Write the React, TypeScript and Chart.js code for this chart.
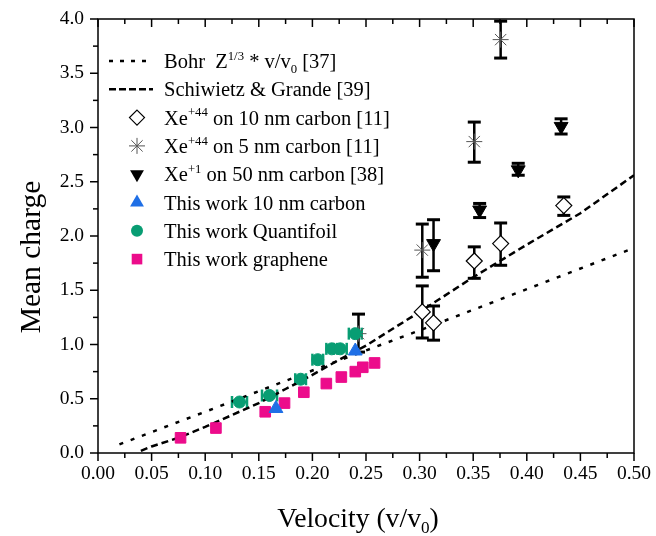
import React, { useEffect, useRef } from 'react';
import { Chart, registerables } from 'chart.js';

Chart.register(...registerables);

const FONT = '"Liberation Serif", "Times New Roman", serif';

// Axis ticks
const X_TICKS = [0, 0.05, 0.1, 0.15, 0.2, 0.25, 0.3, 0.35, 0.4, 0.45, 0.5];
const Y_TICKS = [0, 0.5, 1, 1.5, 2, 2.5, 3, 3.5, 4];

// Bohr Z^(1/3) * v/v0 [37]
const BOHR_V = [0.02, 0.1, 0.2, 0.3, 0.4, 0.5];
const BOHR_Q = [0.08, 0.38, 0.76, 1.13, 1.51, 1.89];

// Schiwietz & Grande [39]
const SG_V = [0.04, 0.05, 0.075, 0.1, 0.125, 0.15, 0.175, 0.2, 0.225, 0.25, 0.3, 0.35, 0.4, 0.45, 0.5];
const SG_Q = [0.02, 0.06, 0.14, 0.24, 0.35, 0.46, 0.59, 0.72, 0.86, 0.99, 1.3, 1.62, 1.92, 2.21, 2.56];

// Xe+44 on 10 nm carbon [11]
const XE44_10_V = [0.3025, 0.313, 0.351, 0.3756, 0.4345];
const XE44_10_Q = [1.3, 1.2, 1.77, 1.93, 2.28];
const XE44_10_LO = [1.06, 1.04, 1.61, 1.73, 2.19];
const XE44_10_HI = [1.54, 1.355, 1.9, 2.12, 2.36];

// Xe+44 on 5 nm carbon [11]
const XE44_5_V = [0.243, 0.3025, 0.351, 0.3756];
const XE44_5_Q = [1.1, 1.87, 2.87, 3.81];
const XE44_5_LO = [0.93, 1.62, 2.68, 3.64];
const XE44_5_HI = [1.28, 2.11, 3.05, 3.98];

// Xe+1 on 50 nm carbon [38]
const XE1_50_V = [0.313, 0.356, 0.392, 0.432];
const XE1_50_Q = [1.93, 2.24, 2.61, 3.01];
const XE1_50_LO = [1.68, 2.17, 2.56, 2.94];
const XE1_50_HI = [2.15, 2.3, 2.67, 3.08];

// This work 10 nm carbon
const TW_C10_V = [0.166, 0.24];
const TW_C10_Q = [0.41, 0.94];

// This work Quantifoil
const TW_QF_V = [0.132, 0.16, 0.189, 0.205, 0.218, 0.226, 0.24];
const TW_QF_Q = [0.47, 0.53, 0.68, 0.86, 0.96, 0.96, 1.1];
const TW_QF_XERR = [0.007, 0.007, 0.005, 0.005, 0.005, 0.006, 0.006];

// This work graphene
const TW_GR_V = [0.077, 0.11, 0.156, 0.174, 0.192, 0.213, 0.227, 0.24, 0.247, 0.258];
const TW_GR_Q = [0.14, 0.23, 0.38, 0.46, 0.56, 0.64, 0.7, 0.75, 0.79, 0.83];

const BLUE = '#1f6fe6';
const GREEN = '#089d73';
const PINK = '#ec0c8b';

const pts = (xs: number[], ys: number[]) => xs.map((v, i) => ({ x: v, y: ys[i] }));

type Seg = { t: string; k?: 'sup' | 'sub' };

function richWidth(ctx: CanvasRenderingContext2D, segs: Seg[], size: number) {
  let w = 0;
  for (const s of segs) {
    const fs = s.k ? size * 0.62 : size;
    ctx.font = `${fs}px ${FONT}`;
    w += ctx.measureText(s.t).width;
  }
  return w;
}

function drawRich(ctx: CanvasRenderingContext2D, segs: Seg[], x: number, y: number, size: number) {
  let cx = x;
  ctx.textBaseline = 'alphabetic';
  ctx.textAlign = 'left';
  for (const s of segs) {
    const fs = s.k ? size * 0.62 : size;
    ctx.font = `${fs}px ${FONT}`;
    const dy = s.k === 'sup' ? -size * 0.4 : s.k === 'sub' ? size * 0.22 : 0;
    ctx.fillText(s.t, cx, y + dy);
    cx += ctx.measureText(s.t).width;
  }
}

function line(ctx: CanvasRenderingContext2D, x1: number, y1: number, x2: number, y2: number) {
  ctx.beginPath();
  ctx.moveTo(x1, y1);
  ctx.lineTo(x2, y2);
  ctx.stroke();
}

function drawMarker(ctx: CanvasRenderingContext2D, kind: string, x: number, y: number) {
  ctx.save();
  ctx.beginPath();
  if (kind === 'diamond') {
    const r = 7.5;
    ctx.moveTo(x, y - r); ctx.lineTo(x + r, y); ctx.lineTo(x, y + r); ctx.lineTo(x - r, y); ctx.closePath();
    ctx.fillStyle = '#fff'; ctx.fill();
    ctx.strokeStyle = '#000'; ctx.lineWidth = 1.2; ctx.stroke();
  } else if (kind === 'star') {
    const r = 8;
    ctx.strokeStyle = '#555'; ctx.lineWidth = 1;
    for (let i = 0; i < 4; i++) {
      const a = (i * Math.PI) / 4;
      ctx.moveTo(x - Math.cos(a) * r, y - Math.sin(a) * r);
      ctx.lineTo(x + Math.cos(a) * r, y + Math.sin(a) * r);
    }
    ctx.stroke();
  } else if (kind === 'down' || kind === 'up') {
    const r = 8;
    const s = kind === 'down' ? 1 : -1;
    ctx.moveTo(x, y + s * r);
    ctx.lineTo(x + r * 0.866, y - s * r * 0.5);
    ctx.lineTo(x - r * 0.866, y - s * r * 0.5);
    ctx.closePath();
    ctx.fillStyle = kind === 'down' ? '#000' : BLUE;
    ctx.fill();
  } else if (kind === 'circle') {
    ctx.arc(x, y, 6, 0, Math.PI * 2);
    ctx.fillStyle = GREEN; ctx.fill();
  } else if (kind === 'square') {
    ctx.fillStyle = PINK;
    ctx.fillRect(x - 5.3, y - 5.3, 10.6, 10.6);
  }
  ctx.restore();
}

const LEGEND: { kind: string; segs: Seg[] }[] = [
  { kind: 'bohr', segs: [{ t: 'Bohr  Z' }, { t: '1/3', k: 'sup' }, { t: ' * v/v' }, { t: '0', k: 'sub' }, { t: ' [37]' }] },
  { kind: 'sg', segs: [{ t: 'Schiwietz & Grande [39]' }] },
  { kind: 'diamond', segs: [{ t: 'Xe' }, { t: '+44', k: 'sup' }, { t: ' on 10 nm carbon [11]' }] },
  { kind: 'star', segs: [{ t: 'Xe' }, { t: '+44', k: 'sup' }, { t: ' on 5 nm carbon [11]' }] },
  { kind: 'down', segs: [{ t: 'Xe' }, { t: '+1', k: 'sup' }, { t: ' on 50 nm carbon [38]' }] },
  { kind: 'up', segs: [{ t: 'This work 10 nm carbon' }] },
  { kind: 'circle', segs: [{ t: 'This work Quantifoil' }] },
  { kind: 'square', segs: [{ t: 'This work graphene' }] },
];

const errorBarsPlugin = {
  id: 'errorBars',
  beforeDatasetsDraw(chart: any) {
    const { ctx, scales } = chart;
    const x = scales.x, y = scales.y;
    ctx.save();
    ctx.strokeStyle = '#000';
    const vbars = (vs: number[], lo: number[], hi: number[]) => {
      vs.forEach((v, i) => {
        const px = x.getPixelForValue(v);
        const pl = y.getPixelForValue(lo[i]);
        const ph = y.getPixelForValue(hi[i]);
        ctx.lineWidth = 2.5;
        line(ctx, px, pl, px, ph);
        ctx.lineWidth = 3;
        line(ctx, px - 6.5, pl, px + 6.5, pl);
        line(ctx, px - 6.5, ph, px + 6.5, ph);
      });
    };
    vbars(XE44_10_V, XE44_10_LO, XE44_10_HI);
    vbars(XE44_5_V, XE44_5_LO, XE44_5_HI);
    vbars(XE1_50_V, XE1_50_LO, XE1_50_HI);
    ctx.strokeStyle = GREEN;
    TW_QF_V.forEach((v, i) => {
      const py = y.getPixelForValue(TW_QF_Q[i]);
      const pl = x.getPixelForValue(v - TW_QF_XERR[i]);
      const ph = x.getPixelForValue(v + TW_QF_XERR[i]);
      ctx.lineWidth = 2;
      line(ctx, pl, py, ph, py);
      ctx.lineWidth = 2.5;
      line(ctx, pl, py - 6, pl, py + 6);
      line(ctx, ph, py - 6, ph, py + 6);
    });
    ctx.restore();
  },
  afterDraw(chart: any) {
    const { ctx, chartArea: a, scales } = chart;
    const x = scales.x, y = scales.y;
    ctx.save();
    ctx.strokeStyle = '#000';
    ctx.fillStyle = '#000';
    ctx.lineWidth = 1.5;
    ctx.strokeRect(a.left, a.top, a.right - a.left, a.bottom - a.top);
    // x ticks (major + minor)
    const xAll: number[] = [];
    X_TICKS.forEach((v, i) => {
      xAll.push(v);
      if (i < X_TICKS.length - 1) xAll.push((v + X_TICKS[i + 1]) / 2);
    });
    xAll.forEach((v, i) => {
      const px = x.getPixelForValue(v);
      const len = i % 2 === 0 ? 8 : 5;
      line(ctx, px, a.bottom, px, a.bottom + len);
      line(ctx, px, a.top, px, a.top + len);
    });
    const yAll: number[] = [];
    Y_TICKS.forEach((v, i) => {
      yAll.push(v);
      if (i < Y_TICKS.length - 1) yAll.push((v + Y_TICKS[i + 1]) / 2);
    });
    yAll.forEach((v, i) => {
      const py = y.getPixelForValue(v);
      const len = i % 2 === 0 ? 8 : 5;
      line(ctx, a.left - len, py, a.left, py);
    });

    // axis titles
    const xt: Seg[] = [{ t: 'Velocity (v/v' }, { t: '0', k: 'sub' }, { t: ')' }];
    const ts = 27.7;
    const w = richWidth(ctx, xt, ts);
    drawRich(ctx, xt, 358 - w / 2, 527, ts);
    ctx.save();
    ctx.translate(40, 257);
    ctx.rotate(-Math.PI / 2);
    ctx.font = `29.5px ${FONT}`;
    ctx.textAlign = 'center';
    ctx.textBaseline = 'alphabetic';
    ctx.fillText('Mean charge', 0, 0);
    ctx.restore();

    // legend
    const ls = 20.5;
    LEGEND.forEach((item, i) => {
      const cy = a.top + 42 + i * 28.3;
      const sx = a.left + 11;
      const ex = a.left + 55;
      if (item.kind === 'bohr' || item.kind === 'sg') {
        ctx.save();
        ctx.strokeStyle = '#000';
        ctx.lineWidth = 2.5;
        ctx.setLineDash(item.kind === 'bohr' ? [4, 7] : [7, 3]);
        line(ctx, sx, cy, ex, cy);
        ctx.restore();
      } else {
        drawMarker(ctx, item.kind, a.left + 39, cy);
      }
      ctx.fillStyle = '#000';
      drawRich(ctx, item.segs, a.left + 66, cy + 7, ls);
    });
    ctx.restore();
  },
};

export default function App() {
  const ref = useRef<HTMLCanvasElement | null>(null);
  useEffect(() => {
    if (!ref.current) return;
    const chart = new Chart(ref.current, {
      type: 'scatter',
      data: {
        datasets: [
          {
            label: 'Bohr',
            data: pts(BOHR_V, BOHR_Q),
            showLine: true,
            borderColor: '#000',
            borderWidth: 2.5,
            borderDash: [4, 8],
            pointRadius: 0,
            order: 10,
          },
          {
            label: 'Schiwietz & Grande',
            data: pts(SG_V, SG_Q),
            showLine: true,
            borderColor: '#000',
            borderWidth: 2.5,
            borderDash: [7, 4],
            pointRadius: 0,
            order: 9,
          },
          {
            label: 'Xe+44 10 nm',
            data: pts(XE44_10_V, XE44_10_Q),
            pointStyle: 'rectRot',
            pointRadius: 8,
            backgroundColor: '#fff',
            borderColor: '#000',
            borderWidth: 1.2,
            order: 6,
          },
          {
            label: 'Xe+44 5 nm',
            data: pts(XE44_5_V, XE44_5_Q),
            pointStyle: 'star',
            pointRadius: 8,
            backgroundColor: '#555',
            borderColor: '#555',
            borderWidth: 1,
            order: 7,
          },
          {
            label: 'Xe+1 50 nm',
            data: pts(XE1_50_V, XE1_50_Q),
            pointStyle: 'triangle',
            rotation: 180,
            pointRadius: 8,
            backgroundColor: '#000',
            borderColor: '#000',
            borderWidth: 1,
            order: 5,
          },
          {
            label: 'This work 10 nm carbon',
            data: pts(TW_C10_V, TW_C10_Q),
            pointStyle: 'triangle',
            pointRadius: 8,
            backgroundColor: BLUE,
            borderColor: BLUE,
            borderWidth: 1,
            order: 1,
          },
          {
            label: 'This work Quantifoil',
            data: pts(TW_QF_V, TW_QF_Q),
            pointStyle: 'circle',
            pointRadius: 6,
            backgroundColor: GREEN,
            borderColor: GREEN,
            borderWidth: 1,
            order: 2,
          },
          {
            label: 'This work graphene',
            data: pts(TW_GR_V, TW_GR_Q),
            pointStyle: 'rect',
            pointRadius: 7.5,
            backgroundColor: PINK,
            borderColor: PINK,
            borderWidth: 1,
            order: 3,
          },
        ],
      },
      options: {
        responsive: false,
        animation: false,
        devicePixelRatio: 1,
        layout: { padding: { left: 0, top: 19, right: 22, bottom: 0 } },
        plugins: { legend: { display: false }, tooltip: { enabled: false } },
        scales: {
          x: {
            type: 'linear',
            min: 0,
            max: 0.5,
            afterBuildTicks: (s: any) => {
              s.ticks = X_TICKS.map((v) => ({ value: v }));
            },
            afterFit: (s: any) => {
              s.height = 83;
              s.paddingLeft = 0;
              s.paddingRight = 0;
            },
            ticks: {
              callback: (v: any) => Number(v).toFixed(2),
              font: { family: FONT, size: 19.5 },
              color: '#000',
              padding: 9,
              maxRotation: 0,
              autoSkip: false,
            },
            grid: { display: false, drawTicks: false },
            border: { display: false },
          },
          y: {
            type: 'linear',
            min: 0,
            max: 4,
            afterBuildTicks: (s: any) => {
              s.ticks = Y_TICKS.map((v) => ({ value: v }));
            },
            afterFit: (s: any) => {
              s.width = 98;
              s.paddingTop = 0;
              s.paddingBottom = 0;
            },
            ticks: {
              callback: (v: any) => Number(v).toFixed(1),
              font: { family: FONT, size: 19.5 },
              color: '#000',
              padding: 14,
              autoSkip: false,
            },
            grid: { display: false, drawTicks: false },
            border: { display: false },
          },
        },
      },
      plugins: [errorBarsPlugin],
    } as any);
    return () => chart.destroy();
  }, []);
  return (
    <div style={{ position: 'absolute', left: 0, top: 0, width: 656, height: 536, background: '#fff' }}>
      <canvas ref={ref} width={656} height={536} />
    </div>
  );
}
